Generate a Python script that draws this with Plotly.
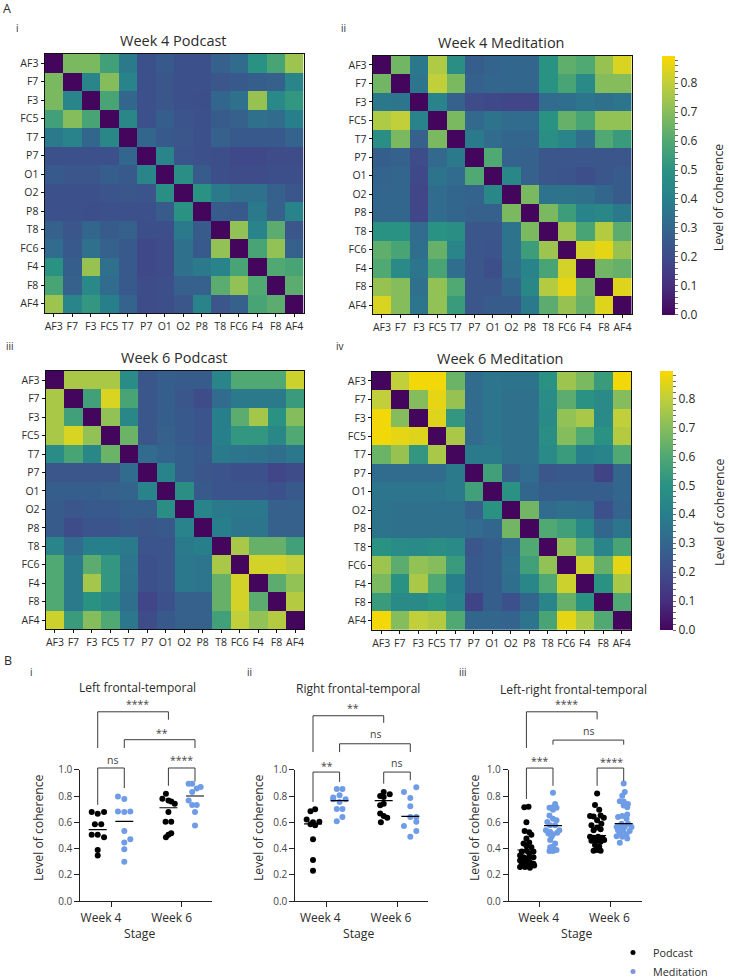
import plotly.graph_objects as go

W, H = 729, 979
CHANNELS = ["AF3","F7","F3","FC5","T7","P7","O1","O2","P8","T8","FC6","F4","F8","AF4"]
STAGES = ["Week 4", "Week 6"]
FONT = "Open Sans"
INK = "#2b2b2b"
BLUE = "#6f9ce6"

# upper triangles, row by row, beginning at the diagonal
W4_PODCAST = [
 [0,.68,.68,.56,.38,.22,.25,.22,.22,.28,.32,.50,.58,.74],
 [0,.43,.70,.42,.22,.24,.22,.22,.24,.25,.27,.28,.43],
 [0,.58,.30,.22,.24,.22,.21,.30,.34,.73,.45,.52],
 [0,.44,.22,.27,.23,.22,.26,.28,.34,.32,.40],
 [0,.30,.25,.24,.22,.28,.25,.25,.25,.29],
 [0,.43,.23,.22,.21,.19,.19,.20,.20],
 [0,.48,.26,.21,.20,.20,.21,.21],
 [0,.50,.38,.34,.34,.28,.24],
 [0,.26,.25,.38,.28,.42],
 [0,.72,.42,.62,.24],
 [0,.58,.72,.28],
 [0,.60,.58],
 [0,.62],
 [0],
]
W4_MEDITATION = [
 [0,.66,.37,.77,.48,.27,.29,.30,.30,.50,.63,.60,.73,.84],
 [0,.36,.80,.68,.28,.30,.30,.30,.50,.58,.46,.70,.70],
 [0,.42,.28,.20,.19,.18,.18,.32,.33,.36,.34,.36],
 [0,.68,.31,.35,.32,.32,.50,.64,.58,.72,.72],
 [0,.38,.32,.30,.30,.48,.43,.33,.60,.54],
 [0,.60,.29,.28,.24,.24,.24,.24,.24],
 [0,.44,.28,.24,.23,.21,.24,.26],
 [0,.68,.35,.35,.34,.30,.26],
 [0,.68,.55,.42,.44,.38],
 [0,.74,.58,.78,.62],
 [0,.83,.86,.73],
 [0,.66,.64],
 [0,.85],
 [0],
]
W6_PODCAST = [
 [0,.76,.76,.76,.47,.24,.27,.26,.26,.43,.60,.60,.60,.82],
 [0,.56,.84,.58,.24,.27,.24,.20,.32,.38,.38,.38,.54],
 [0,.72,.44,.24,.27,.25,.23,.40,.62,.75,.50,.70],
 [0,.65,.24,.28,.25,.23,.40,.52,.52,.44,.60],
 [0,.32,.29,.27,.25,.38,.36,.35,.33,.37],
 [0,.42,.27,.24,.23,.22,.22,.18,.20],
 [0,.48,.25,.23,.23,.23,.22,.25],
 [0,.42,.38,.37,.37,.28,.28],
 [0,.40,.36,.36,.28,.28],
 [0,.76,.64,.64,.56],
 [0,.83,.83,.80],
 [0,.62,.72],
 [0,.78],
 [0],
]
W6_MEDITATION = [
 [0,.80,.88,.88,.65,.32,.36,.35,.35,.50,.74,.68,.54,.88],
 [0,.70,.86,.73,.32,.36,.34,.34,.47,.62,.50,.46,.70],
 [0,.85,.52,.32,.36,.34,.34,.46,.72,.76,.46,.80],
 [0,.76,.32,.36,.34,.34,.48,.70,.60,.50,.78],
 [0,.38,.38,.34,.34,.46,.54,.40,.42,.60],
 [0,.56,.28,.32,.24,.25,.25,.17,.30],
 [0,.50,.30,.27,.27,.27,.27,.30],
 [0,.66,.32,.34,.33,.22,.29],
 [0,.60,.56,.44,.30,.36],
 [0,.72,.60,.43,.58],
 [0,.82,.64,.86],
 [0,.50,.76],
 [0,.60],
 [0],
]

# Panel B: coherence values and swarm offsets along the stage axis
LFT_W4_POD = [.678,.665,.678,.586,.586,.505,.505,.487,.39,.348]
LFT_W4_POD_DX = [-.085,0,.09,-.04,.05,-.085,0,.09,0,0]
LFT_W4_MED = [.797,.777,.683,.678,.683,.535,.472,.447,.396,.30]
LFT_W4_MED_DX = [-.09,0,-.09,0,.085,0,.085,0,0,0]
LFT_W6_POD = [.817,.78,.766,.759,.741,.678,.604,.604,.518,.505,.487]
LFT_W6_POD_DX = [-.035,-.085,0,.04,.09,0,-.04,.04,.04,0,-.035]
LFT_W6_MED = [.893,.893,.868,.858,.83,.766,.731,.731,.678,.576]
LFT_W6_MED_DX = [-.09,-.04,.08,.025,-.04,-.09,-.04,.025,0,0]
LFT_MEANS = [.545,.607,.711,.80]

RFT_W4_POD = [.684,.70,.621,.604,.586,.578,.60,.472,.313,.232]
RFT_W4_POD_DX = [-.035,.03,-.09,.09,-.035,.03,0,0,0,0]
RFT_W4_MED = [.854,.854,.788,.806,.775,.775,.755,.702,.702,.641,.609]
RFT_W4_MED_DX = [-.04,.04,-.09,0,.085,-.09,0,-.04,.04,.04,-.04]
RFT_W6_POD = [.83,.80,.813,.793,.742,.73,.667,.649,.634,.60]
RFT_W6_POD_DX = [0,-.05,.085,0,0,-.05,-.05,0,.05,-.04]
RFT_W6_MED = [.866,.83,.785,.722,.641,.641,.573,.604,.535,.49]
RFT_W6_MED_DX = [.085,-.09,0,0,0,.085,-.09,.085,.085,0]
RFT_MEANS = [.588,.765,.765,.646]

LR_W4_POD = [.715,.718,.60,.535,.525,.505,.478,.44,.447,.4225,.41,.3775,.385,.3775,.365,.3475,.335,.33,.335,.31,.305,.2975,.285,.285,.26,.26,.255,.2725,.28,.31]
LR_W4_POD_DX = [-.03,.03,0,-.025,.04,.07,0,-.04,.04,0,.07,-.065,0,.10,.04,-.09,-.04,.03,.10,-.09,0,.05,-.065,.10,-.09,-.02,.05,.11,0,-.04]
LR_W4_MED = [.825,.74,.715,.71,.71,.695,.6525,.6275,.615,.6025,.5775,.5775,.54,.5275,.54,.51,.515,.52,.49,.465,.44,.415,.41,.3825,.39,.3825]
LR_W4_MED_DX = [0,.03,0,-.05,.05,0,-.05,0,.05,-.08,-.04,.03,-.10,-.04,.09,0,-.065,.06,-.02,-.04,.03,0,-.04,-.05,.05,0]
LR_W6_POD = [.82,.7325,.695,.6475,.645,.6525,.635,.615,.5775,.59,.56,.54,.5475,.49,.4825,.49,.4825,.46,.46,.4525,.465,.4275,.415,.385,.385,.39]
LR_W6_POD_DX = [0,-.03,.03,-.10,-.05,.05,.095,0,-.08,.06,0,-.05,.05,-.10,-.05,.015,.075,-.08,-.01,.05,.10,-.03,.03,-.05,.05,0]
LR_W6_MED = [.895,.83,.8025,.76,.7575,.74,.7275,.715,.66,.6475,.64,.6275,.59,.59,.565,.565,.565,.565,.54,.535,.535,.515,.51,.495,.49,.4775,.445]
LR_W6_MED_DX = [0,.015,-.02,-.055,0,.06,0,.05,.05,-.02,-.08,.04,-.03,.06,-.10,-.05,.015,.11,-.08,-.01,.085,-.055,.04,-.10,-.02,.05,-.055]
LR_MEANS = [.39,.575,.50,.59]

COLOR_TICKS = [round(i * .02, 2) for i in range(45)]
COLOR_LABELS = [f"{v:.1f}" if round(v * 100) % 10 == 0 else "" for v in COLOR_TICKS]
MUTED_VIRIDIS = [[0,"#44055c"],[.112,"#462f7e"],[.223,"#3e4c8a"],[.335,"#33668d"],[.447,"#287f8c"],
                 [.559,"#2a9283"],[.67,"#50a872"],[.782,"#86bd5c"],[.894,"#c0cf3a"],[1,"#fbd800"]]


def mirror(rows):
    n = len(rows)
    m = [[0] * n for _ in range(n)]
    for i, row in enumerate(rows):
        for k, v in enumerate(row):
            m[i][i + k] = v
            m[i + k][i] = v
    return m


def px_x(x):
    return x / W


def px_y(y):
    return 1 - y / H


fig = go.Figure()
annotations = []


def text(x, y, s, size=11, angle=0, color=INK):
    annotations.append(dict(x=px_x(x), y=px_y(y), xref="paper", yref="paper", text=s, showarrow=False,
                            font=dict(family=FONT, size=size, color=color), textangle=angle,
                            xanchor="center", yanchor="middle"))


HEATMAPS = [
    (W4_PODCAST, "Week 4 Podcast", (44.5, 303.5), (54, 313), None),
    (W4_MEDITATION, "Week 4 Meditation", (372.7, 631.7), (55.7, 314.3), (662.3, 55.7, 258.6, 718.5)),
    (W6_PODCAST, "Week 6 Podcast", (45.7, 304.3), (371, 629.3), None),
    (W6_MEDITATION, "Week 6 Meditation", (372, 631), (371.7, 630), (660, 371, 258.6, 719)),
]
layout_axes = {}
for i, (rows, title, xs, ys, bar) in enumerate(HEATMAPS, start=1):
    colorbar = None
    if bar:
        colorbar = dict(x=px_x(bar[0]), xanchor="left", xpad=0, ypad=0, y=px_y(bar[1]), yanchor="top",
                        len=bar[2], lenmode="pixels", thickness=13.4, outlinewidth=0,
                        tickmode="array", tickvals=COLOR_TICKS, ticktext=COLOR_LABELS,
                        ticks="outside", ticklen=3.5, tickcolor="#666", tickwidth=1,
                        tickfont=dict(family=FONT, size=12, color=INK))
    fig.add_trace(go.Heatmap(z=mirror(rows), x=CHANNELS, y=CHANNELS, xaxis=f"x{i}", yaxis=f"y{i}", zmin=0, zmax=.895,
                             colorscale=MUTED_VIRIDIS, showscale=bool(bar), colorbar=colorbar, xgap=0, ygap=0))
    layout_axes[f"xaxis{i}"] = dict(domain=[px_x(xs[0]), px_x(xs[1])], anchor=f"y{i}", type="category",
                                    showline=True, mirror=True, linecolor="#111", linewidth=1, ticks="outside",
                                    ticklen=3, tickcolor="#111", tickfont=dict(family=FONT, size=10.5, color=INK),
                                    tickangle=0, showgrid=False, zeroline=False)
    layout_axes[f"yaxis{i}"] = dict(domain=[px_y(ys[1]), px_y(ys[0])], anchor=f"x{i}", type="category",
                                    autorange="reversed", showline=True, mirror=True, linecolor="#111", linewidth=1,
                                    ticks="outside", ticklen=3, tickcolor="#111",
                                    tickfont=dict(family=FONT, size=10.5, color=INK), showgrid=False, zeroline=False)
    text((xs[0] + xs[1]) / 2 - 1, ys[0] - 13.5, title, size=14.5)
    if bar:
        text(bar[3], bar[1] + 142, "Level of coherence", size=12.3, angle=-90)

DODGE = .188
HALF_BAR = .127
Y_BOTTOM, Y_TOP = 901.3, 769.7
BRACKET_MAX = 1.65
PANELS = [
    dict(title="Left frontal-temporal", title_xy=(137, 687), y_title=(38, 828), stage_x=139, xs=(80.3, 212), tick=111, shift=-10,
         groups=[(LFT_W4_POD, LFT_W4_POD_DX), (LFT_W4_MED, LFT_W4_MED_DX), (LFT_W6_POD, LFT_W6_POD_DX), (LFT_W6_MED, LFT_W6_MED_DX)],
         means=LFT_MEANS,
         brackets=[(0, 2, 1.44, 1.165, 1.38), (1, 3, 1.228, 1.165, 1.165), (0, 1, 1.013, .733, .86), (2, 3, 1.013, .878, .91)],
         labels=[(.37, 1.50, "****"), (.717, 1.28, "**"), (.02, 1.07, "ns"), (1.0, 1.07, "****")]),
    dict(title="Right frontal-temporal", title_xy=(358, 688), y_title=(258, 828), stage_x=358, xs=(295.3, 428.3), tick=326.3, shift=-6,
         groups=[(RFT_W4_POD, RFT_W4_POD_DX), (RFT_W4_MED, RFT_W4_MED_DX), (RFT_W6_POD, RFT_W6_POD_DX), (RFT_W6_MED, RFT_W6_MED_DX)],
         means=RFT_MEANS,
         brackets=[(0, 2, 1.41, 1.134, 1.356), (1, 3, 1.197, 1.134, 1.134), (0, 1, .982, .755, .907), (2, 3, .982, .894, .92)],
         labels=[(.38, 1.47, "**"), (.69, 1.27, "ns"), (.005, 1.03, "**"), (.995, 1.05, "ns")]),
    dict(title="Left-right frontal-temporal", title_xy=(573, 689), y_title=(474, 828), stage_x=576, xs=(508.7, 642.3), tick=539.7, shift=-1,
         groups=[(LR_W4_POD, LR_W4_POD_DX), (LR_W4_MED, LR_W4_MED_DX), (LR_W6_POD, LR_W6_POD_DX), (LR_W6_MED, LR_W6_MED_DX)],
         means=LR_MEANS,
         brackets=[(0, 2, 1.44, 1.165, 1.3825), (1, 3, 1.225, 1.19, 1.19), (0, 1, 1.0125, .7775, .8775), (2, 3, 1.0125, .8775, .915)],
         labels=[(.38, 1.50, "****"), (.69, 1.295, "ns"), (.005, 1.065, "***"), (1.02, 1.06, "****")]),
]
for i, p in enumerate(PANELS, start=5):
    span = 70.7
    x0 = -(p["tick"] - p["xs"][0]) / span
    x1 = (p["xs"][1] - p["tick"]) / span
    xa, ya = f"x{i}", f"y{i}"
    ya_over = f"y{i + 3}"          # hidden axis with the same scale that reaches up to hold the brackets
    centers = [0 - DODGE, 0 + DODGE, 1 - DODGE, 1 + DODGE]
    for g, ((vals, dx), c) in enumerate(zip(p["groups"], centers)):
        color = "#000000" if g % 2 == 0 else BLUE
        fig.add_trace(go.Scatter(x=[c + d for d in dx], y=vals, mode="markers", xaxis=xa, yaxis=ya, showlegend=False,
                                 cliponaxis=False, marker=dict(size=6, color=color, line=dict(width=0))))
    for m, c in zip(p["means"], centers):
        fig.add_trace(go.Scatter(x=[c - HALF_BAR, c + HALF_BAR], y=[m, m], mode="lines", xaxis=xa, yaxis=ya,
                                 showlegend=False, cliponaxis=False, line=dict(color="#000", width=1.2)))
    for a, b, top, left, right in p["brackets"]:
        fig.add_trace(go.Scatter(x=[centers[a], centers[a], centers[b], centers[b]], y=[left, top, top, right],
                                 mode="lines", xaxis=xa, yaxis=ya_over, showlegend=False,
                                 line=dict(color="#3a3a3a", width=1)))
    for lx, ly, s in p["labels"]:
        annotations.append(dict(x=lx, y=ly, xref=xa, yref=ya_over, text=s, showarrow=False,
                                font=dict(family=FONT, size=10.5, color="#444"), xanchor="center", yanchor="middle"))
    layout_axes[f"xaxis{i}"] = dict(domain=[px_x(p["xs"][0]), px_x(p["xs"][1])], anchor=ya, range=[x0, x1],
                                    tickmode="array", tickvals=[0, 1], ticktext=STAGES, ticks="outside", ticklen=5,
                                    ticklabelshift=p["shift"], showline=True, linecolor="#222", linewidth=1,
                                    tickcolor="#222", showgrid=False, zeroline=False,
                                    tickfont=dict(family=FONT, size=12, color=INK))
    layout_axes[f"yaxis{i}"] = dict(domain=[px_y(Y_BOTTOM), px_y(Y_TOP)], anchor=xa, range=[0, 1], dtick=.2, tick0=0,
                                    tickformat=".1f", ticks="outside", ticklen=5, showline=True, linecolor="#222",
                                    linewidth=1, tickcolor="#222", showgrid=False, zeroline=False,
                                    tickfont=dict(family=FONT, size=10, color="#444"))
    layout_axes[f"yaxis{i + 3}"] = dict(domain=[px_y(Y_BOTTOM), px_y(Y_BOTTOM - BRACKET_MAX * (Y_BOTTOM - Y_TOP))],
                                        anchor=xa, range=[0, BRACKET_MAX], visible=False)
    text(*p["title_xy"], p["title"], size=12)
    text(*p["y_title"], "Level of coherence", size=12.2, angle=-90)
    text(p["stage_x"], 933, "Stage", size=12.2)

# legend
for name, color in (("Podcast", "#000000"), ("Meditation", "#7f95dc")):
    fig.add_trace(go.Scatter(x=[None], y=[None], mode="markers", name=name, xaxis="x7", yaxis="y7",
                             marker=dict(size=5, color=color, line=dict(width=0))))

for x, y, s, size in [(7, 8, "A", 12.5), (17, 28, "i", 10), (343, 28, "ii", 10), (10, 346, "iii", 10), (340, 346, "iv", 10),
                      (8, 660, "B", 12.5), (32, 672, "i", 10), (249, 672, "ii", 10), (463, 672, "iii", 10)]:
    text(x, y, s, size=size)

fig.update_layout(width=W, height=H, autosize=False, margin=dict(l=0, r=0, t=0, b=0, autoexpand=False),
                  paper_bgcolor="white", plot_bgcolor="rgba(0,0,0,0)", annotations=annotations,
                  font=dict(family=FONT, color=INK),
                  legend=dict(x=px_x(613), xanchor="left", y=px_y(938), yanchor="top", bgcolor="rgba(0,0,0,0)",
                              font=dict(family=FONT, size=10.8, color=INK), tracegroupgap=0),
                  **layout_axes)
fig.write_html("out.html", config={"displayModeBar": False}, post_script="document.body.style.margin='0';")
